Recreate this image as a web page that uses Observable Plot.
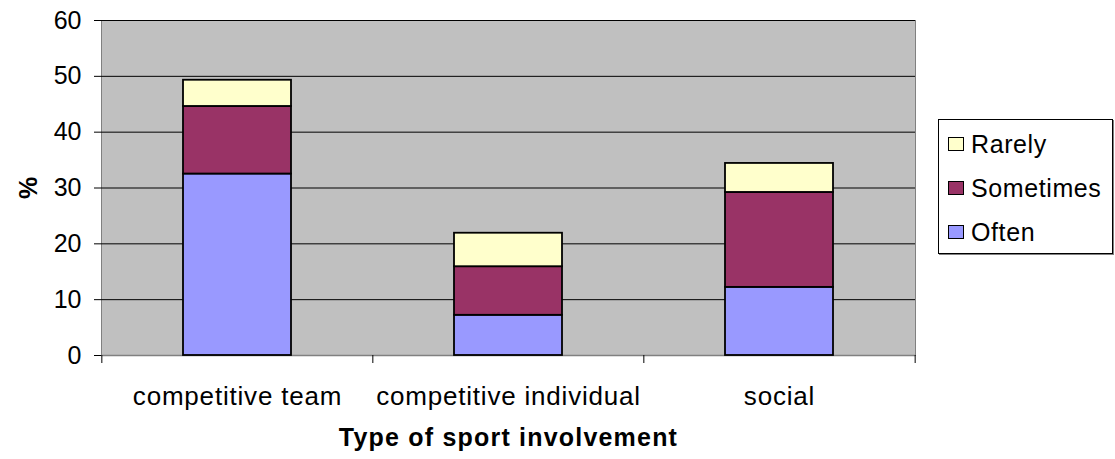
<!DOCTYPE html>
<html>
<head>
<meta charset="utf-8">
<script src="https://cdn.jsdelivr.net/npm/d3@7"></script>
<script src="https://cdn.jsdelivr.net/npm/@observablehq/plot@0.6"></script>
<style>
  html, body { margin: 0; padding: 0; background: #fff; }
  body { font-family: "Liberation Sans", Arial, sans-serif; }
  #wrap { position: relative; width: 1115px; height: 459px; }
  #legend {
    position: absolute; left: 938px; top: 119px; width: 175px; height: 135px;
    border: 1px solid #000; box-sizing: border-box; background: #fff;
    box-shadow: 1px 1px 0 #808080;
  }
  .item { position: absolute; left: 9px; height: 26px; display: flex; align-items: center; font-size: 25px; letter-spacing: 0.6px; color: #000; white-space: nowrap; }
  .sw { width: 16px; height: 14px; border: 1.5px solid #000; box-sizing: border-box; margin-right: 7px; }
  svg [aria-label="y-axis label"] text { font-weight: bold; font-size: 25px; }
  svg [aria-label="x-axis tick label"] text { letter-spacing: 0.8px; }
</style>
</head>
<body>
<div id="wrap"><div id="legend"></div></div>
<script>
const categories = ["competitive team", "competitive individual", "social"];
const often = [32.5, 7.2, 12.2];
const sometimes = [12.1, 8.7, 17.0];
const rarely = [4.7, 6.0, 5.2];
const seriesNames = ["Often", "Sometimes", "Rarely"];
const seriesColors = ["#9999FF", "#993366", "#FFFFCC"];
const yTicks = [0, 10, 20, 30, 40, 50, 60];
const gridTicks = [10, 20, 30, 40, 50, 60];
const legendOrder = ["Rarely", "Sometimes", "Often"];
const xTitle = "Type of sport involvement";
const yTitle = "%";

const seriesValues = [often, sometimes, rarely];
const data = [];
seriesNames.forEach((s, i) => categories.forEach((c, j) => data.push({category: c, series: s, value: seriesValues[i][j]})));

const width = 1115, height = 459;
const marginLeft = 101, marginRight = 200, marginTop = 20, marginBottom = 104;
const step = (width - marginLeft - marginRight) / categories.length;

const chart = Plot.plot({
  width, height, marginLeft, marginRight, marginTop, marginBottom,
  style: {fontFamily: '"Liberation Sans", Arial, sans-serif', fontSize: "25px", color: "#000", background: "#fff"},
  x: {domain: categories, paddingInner: 0.6, paddingOuter: 0.3, axis: null},
  y: {domain: [0, 60], axis: null},
  color: {domain: seriesNames, range: seriesColors},
  marks: [
    Plot.frame({fill: "#C0C0C0", stroke: "#808080"}),
    Plot.ruleY(gridTicks, {stroke: "#000", strokeWidth: 1}),
    Plot.ruleY([0], {stroke: "#808080", strokeWidth: 1.5}),
    Plot.axisY({ticks: yTicks, tickSize: 7, tickPadding: 13, fontSize: 25, label: yTitle, labelAnchor: "center", labelArrow: "none", labelOffset: 82, stroke: "#000"}),
    Plot.axisX({tickSize: 0, tickPadding: 31, fontSize: 26, label: null}),
    Plot.ruleX(categories, {x: d => d, y1: 0, y2: 0, insetBottom: -8, dx: -step / 2, stroke: "#000"}),
    Plot.ruleX([categories[categories.length - 1]], {x: d => d, y1: 0, y2: 0, insetBottom: -8, dx: step / 2, stroke: "#000"}),
    Plot.barY(data, Plot.stackY({order: seriesNames}, {x: "category", y: "value", fill: "series", stroke: "#000", strokeWidth: 1.8})),
    Plot.text([xTitle], {frameAnchor: "bottom", dy: 90, fontWeight: "bold", fontSize: 25, text: d => d, style: {letterSpacing: "1.2px"}})
  ]
});
chart.querySelectorAll('[aria-label="text"] text').forEach(t => t.style.letterSpacing = "1.2px");
document.getElementById("wrap").prepend(chart);

const legend = document.getElementById("legend");
legendOrder.forEach((s, i) => {
  const it = document.createElement("div");
  it.className = "item";
  it.style.top = (11 + i * 44) + "px";
  const sw = document.createElement("span");
  sw.className = "sw";
  sw.style.background = seriesColors[seriesNames.indexOf(s)];
  it.appendChild(sw);
  it.appendChild(document.createTextNode(s));
  legend.appendChild(it);
});
</script>
</body>
</html>
